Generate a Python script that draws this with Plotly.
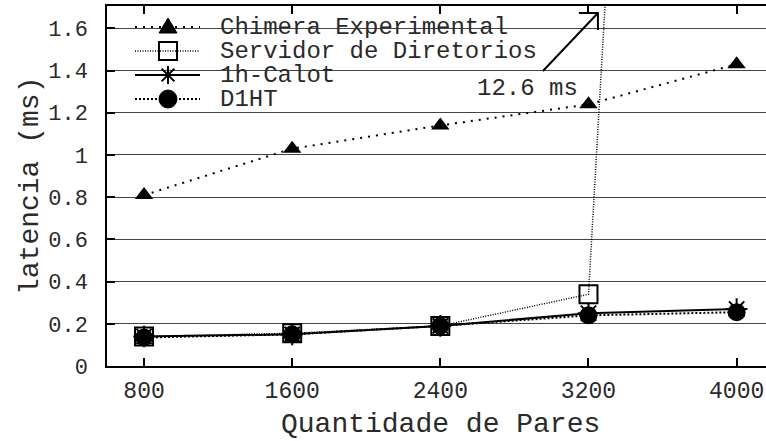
import plotly.graph_objects as go

# Lookup latency per number of peers
pares = [800, 1600, 2400, 3200, 4000]
chimera = [0.81, 1.03, 1.14, 1.24, 1.43]
servidor = [0.14, 0.155, 0.19, 0.34, 12.6]
calot = [0.14, 0.15, 0.19, 0.25, 0.27]
d1ht = [0.135, 0.15, 0.19, 0.24, 0.255]

y_ticks = [0, 0.2, 0.4, 0.6, 0.8, 1, 1.2, 1.4, 1.6]
y_tick_text = ["0", "0.2", "0.4", "0.6", "0.8", "1", "1.2", "1.4", "1.6"]
x_tick_text = ["800", "1600", "2400", "3200", "4000"]

series_names = ["Chimera Experimental", "Servidor de Diretorios", "1h-Calot", "D1HT"]
off_scale_label = "12.6 ms"

FONT = "Liberation Mono, Courier New, monospace"
INK = "#2a2a2a"

W, H = 766, 441
ML, MR, MT, MB = 107, 0, 6, 75
X_RANGE = [600, 4158.6]
Y_RANGE = [0, 1.706]


def paper_x(px):
    return (px - ML) / (W - ML - MR)


def paper_y(py):
    return (H - MB - py) / (H - MT - MB)


styles = [
    dict(line=dict(color="black", width=2, dash="2px,6px"),
         marker=dict(symbol="triangle-up", size=16, color="black")),
    dict(line=dict(color="black", width=1.5, dash="1px,1.5px"),
         marker=dict(symbol="square-open", size=18, color="black", line=dict(width=2, color="black"))),
    dict(line=dict(color="black", width=2),
         marker=dict(symbol="asterisk-open", size=18, color="black", line=dict(width=2, color="black"))),
    dict(line=dict(color="black", width=2, dash="2px,2px"),
         marker=dict(symbol="circle", size=18, color="black")),
]

fig = go.Figure()
for name, values, st in zip(series_names, [chimera, servidor, calot, d1ht], styles):
    fig.add_trace(go.Scatter(x=pares, y=values, name=name, mode="lines+markers",
                             showlegend=False, **st))

shapes = []
annotations = []

# opaque key box over the grid
shapes.append(dict(type="rect", xref="paper", yref="paper", layer="between",
                   x0=paper_x(122), x1=paper_x(537), y0=paper_y(119), y1=paper_y(7),
                   fillcolor="white", line=dict(width=0)))

# key entries: sample line, marker glyph, label
key_rows = [27, 51, 75, 99]
line_dashes = ["2px,6px", "1px,1.5px", "solid", "2px,2px"]
line_widths = [2, 1.5, 2, 2]
marker_paths = [
    dict(type="path", path="M-9,-6 L9,-6 L0,9 Z", fillcolor="black", line=dict(color="black", width=1)),
    dict(type="rect", x0=-9, x1=9, y0=-9, y1=9, line=dict(color="black", width=2)),
    dict(type="path", path="M0,-9 L0,9 M-9,0 L9,0 M-6.4,-6.4 L6.4,6.4 M-6.4,6.4 L6.4,-6.4",
         line=dict(color="black", width=2)),
    dict(type="circle", x0=-9, x1=9, y0=-9, y1=9, fillcolor="black", line=dict(color="black", width=1)),
]
for row_y, name, dash, lw, mk in zip(key_rows, series_names, line_dashes, line_widths, marker_paths):
    shapes.append(dict(type="line", xref="paper", yref="paper",
                       x0=paper_x(135), x1=paper_x(200), y0=paper_y(row_y), y1=paper_y(row_y),
                       line=dict(color="black", width=lw, dash=dash)))
    glyph = dict(xref="paper", yref="paper", xsizemode="pixel", ysizemode="pixel",
                 xanchor=paper_x(168), yanchor=paper_y(row_y))
    glyph.update(mk)
    shapes.append(glyph)
    annotations.append(dict(text=name, xref="paper", yref="paper", x=paper_x(218), y=paper_y(row_y),
                            xanchor="left", yanchor="middle", showarrow=False, height=22,
                            font=dict(family=FONT, size=24, color=INK)))

# arrow pointing to the off-scale value
arrow_tail = (2954, 1.398)
arrow_head = (3251, 1.673)
shapes.append(dict(type="line", xref="x", yref="y", x0=arrow_tail[0], y0=arrow_tail[1],
                   x1=arrow_head[0], y1=arrow_head[1], line=dict(color="black", width=2)))
shapes.append(dict(type="path", xref="x", yref="y", xsizemode="pixel", ysizemode="pixel",
                   xanchor=arrow_head[0], yanchor=arrow_head[1], path="M-19,0 L0,0 L0,-17",
                   line=dict(color="black", width=2)))
annotations.append(dict(text=off_scale_label, xref="x", yref="y", x=2873, y=1.317,
                        xanchor="center", yanchor="middle", showarrow=False, height=22,
                        font=dict(family=FONT, size=24, color=INK)))

# axis titles
annotations.append(dict(text="latencia (ms)", xref="paper", yref="paper", x=paper_x(30), y=paper_y(186),
                        textangle=-90, xanchor="center", yanchor="middle", showarrow=False,
                        font=dict(family=FONT, size=28, color=INK)))
annotations.append(dict(text="Quantidade de Pares", xref="paper", yref="paper", x=paper_x(440), y=paper_y(424),
                        xanchor="center", yanchor="middle", showarrow=False, height=28,
                        font=dict(family=FONT, size=28, color=INK)))

fig.update_layout(
    width=W, height=H,
    margin=dict(l=ML, r=MR, t=MT, b=MB, pad=0),
    paper_bgcolor="white", plot_bgcolor="white",
    showlegend=False,
    shapes=shapes,
    annotations=annotations,
    xaxis=dict(range=X_RANGE, tickvals=pares, ticktext=x_tick_text,
               ticks="inside", ticklen=8, tickwidth=1.5, tickcolor="black",
               showline=True, linecolor="black", linewidth=1.5, mirror="ticks",
               showgrid=False, zeroline=False, ticklabelstandoff=3,
               tickfont=dict(family=FONT, size=23, color=INK)),
    yaxis=dict(range=Y_RANGE, tickvals=y_ticks, ticktext=y_tick_text,
               ticks="inside", ticklen=8, tickwidth=1.5, tickcolor="black",
               showline=True, linecolor="black", linewidth=1.5,
               showgrid=True, gridcolor="#444444", gridwidth=1, zeroline=False,
               ticklabelstandoff=13,
               tickfont=dict(family=FONT, size=22, color=INK)),
)

fig.write_html("out.html")
